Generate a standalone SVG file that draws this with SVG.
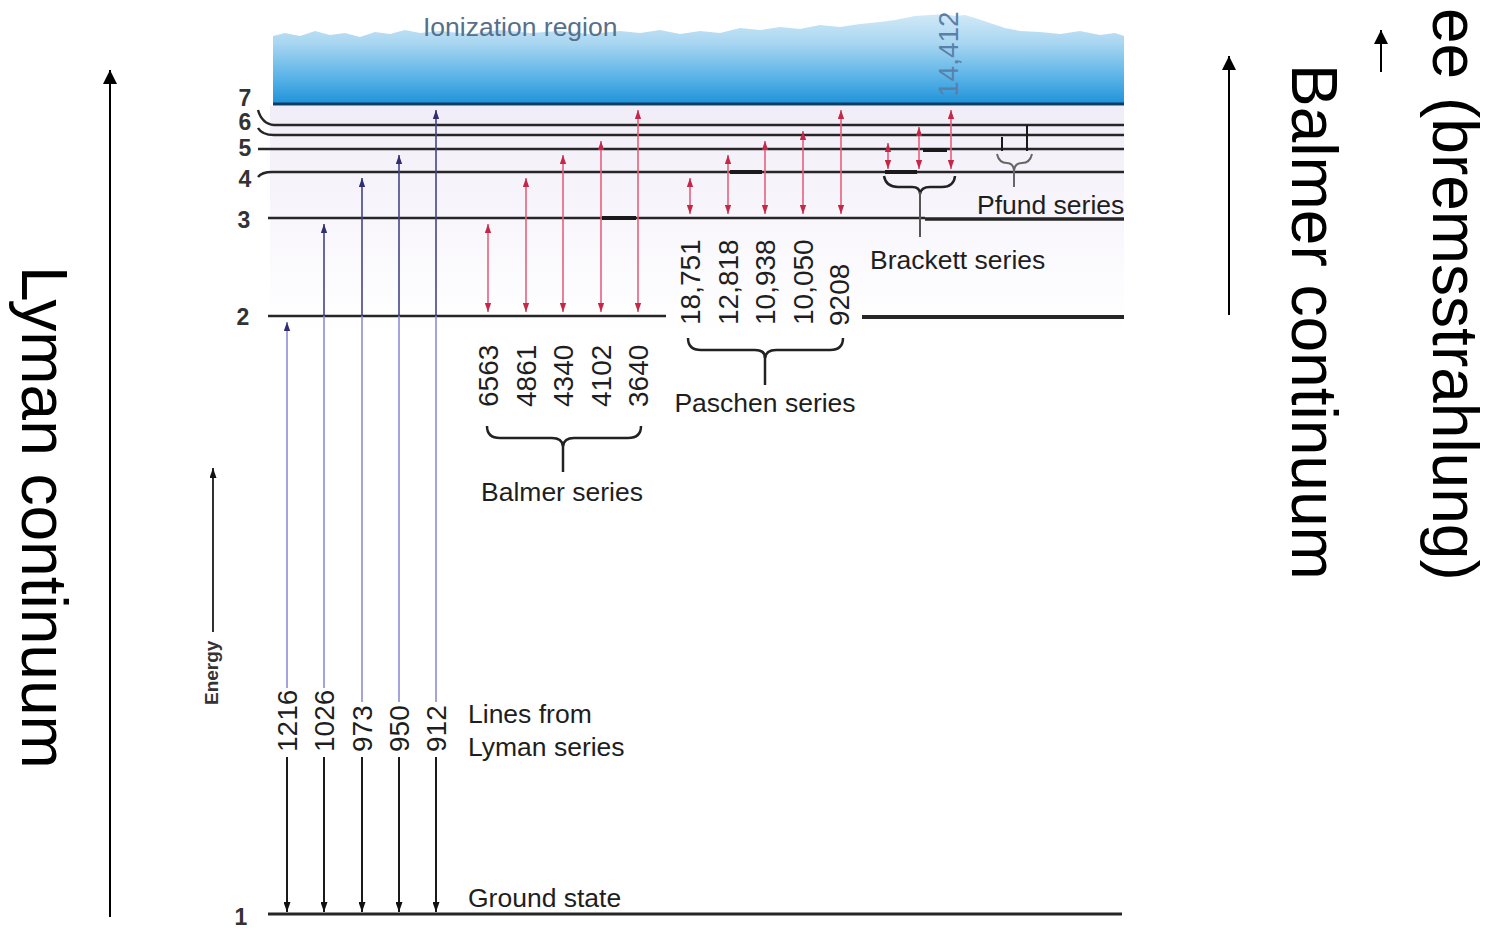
<svg xmlns="http://www.w3.org/2000/svg" width="1501" height="929" viewBox="0 0 1501 929">
<style>
.lvl{stroke:#262626;stroke-width:2.5;fill:none}
.thick{stroke:#1a1a1a;stroke-width:4;fill:none}
.lbl{font-family:"Liberation Sans",Arial,sans-serif;font-size:26.5px;fill:#1e1e1e}
.num{font-family:"Liberation Sans",Arial,sans-serif;font-size:28px;fill:#1e1e1e}
.lvn{font-family:"Liberation Sans",Arial,sans-serif;font-size:23px;font-weight:bold;fill:#333;text-anchor:middle}
.big{font-family:"Liberation Sans",Arial,sans-serif;font-size:64px;fill:#000}
.blue{stroke:#8c8cd6;stroke-width:1.6;fill:none}
.blued{stroke:#44448a;stroke-width:1.6;fill:none}
.red{stroke:#e8607c;stroke-width:1.6;fill:none}
.blk{stroke:#1a1a1a;stroke-width:2;fill:none}
.brace{stroke:#222;stroke-width:2.5;fill:none}
.axis{stroke:#000;stroke-width:2;fill:none}
</style>
<defs>
<linearGradient id="ion" gradientUnits="userSpaceOnUse" x1="0" y1="10" x2="0" y2="104">
<stop offset="0" stop-color="#d6ecf8"/>
<stop offset="0.35" stop-color="#a9d6f1"/>
<stop offset="0.7" stop-color="#5db5e8"/>
<stop offset="1" stop-color="#1f92da"/>
</linearGradient>
<linearGradient id="lav" gradientUnits="userSpaceOnUse" x1="0" y1="106" x2="0" y2="330">
<stop offset="0" stop-color="#f1edf8"/>
<stop offset="1" stop-color="#ffffff"/>
</linearGradient>
<marker id="mb" viewBox="0 0 10 7" refX="10" refY="3.5" markerWidth="9" markerHeight="7" markerUnits="userSpaceOnUse" orient="auto-start-reverse"><path d="M0,0L10,3.5L0,7Z" fill="#2e2e70"/></marker>
<marker id="mr" viewBox="0 0 10 7" refX="10" refY="3.5" markerWidth="9" markerHeight="7" markerUnits="userSpaceOnUse" orient="auto-start-reverse"><path d="M0,0L10,3.5L0,7Z" fill="#c42848"/></marker>
<marker id="mk" viewBox="0 0 10 7" refX="10" refY="3.5" markerWidth="10" markerHeight="7" markerUnits="userSpaceOnUse" orient="auto-start-reverse"><path d="M0,0L10,3.5L0,7Z" fill="#111"/></marker>
<marker id="mbig" viewBox="0 0 14 14" refX="14" refY="7" markerWidth="14" markerHeight="14" markerUnits="userSpaceOnUse" orient="auto-start-reverse"><path d="M0,0L14,7L0,14Z" fill="#000"/></marker>
</defs>

<rect width="1501" height="929" fill="#fff"/>

<g id="ionization-region">
<path d="M273,104 L273,36 L285,33 L300,36 L315,31 L330,35 L345,33 L360,37 L375,32 L390,34 L405,30 L420,33 L440,31 L470,34 L500,30 L530,33 L560,31 L590,34 L620,31 L640,33 L660,30 L680,34 L700,31 L720,33 L740,28 L760,30 L780,27 L800,29 L820,25 L840,27 L860,24 L880,22 L895,20 L905,18 L915,16 L930,15 L945,14 L955,16 L965,15 L975,18 L990,23 L1005,28 L1020,31 L1040,32 L1060,34 L1080,31 L1100,35 L1115,33 L1124,36 L1124,104 Z" fill="url(#ion)"/>
<rect x="270" y="106" width="854" height="224" fill="url(#lav)"/>
<line x1="273" y1="104" x2="1124" y2="104" stroke="#0f3c62" stroke-width="3"/>
<text x="423" y="36" class="lbl" style="fill:#56708c">Ionization region</text>
<text class="num" transform="translate(958,97) rotate(-90)" style="fill:#5a80aa">14,412</text>
</g>

<g id="levels">
<g id="level-7"><path class="lvl" d="M258,110 Q262,124 274,125 L1124,125"/><text class="lvn" x="245" y="106">7</text></g>
<g id="level-6"><path class="lvl" d="M258,128 Q262,135 274,135 L1124,135"/><text class="lvn" x="245" y="130">6</text></g>
<g id="level-5"><path class="lvl" d="M258,149 L1124,149"/><text class="lvn" x="245" y="156">5</text></g>
<g id="level-4"><path class="lvl" d="M258,177 Q262,172 272,172 L1124,172"/><text class="lvn" x="245" y="187">4</text></g>
<g id="level-3"><path class="lvl" d="M268,218 L925,218"/><path class="lvl" style="stroke-width:3.5" d="M925,219 L1124,219"/><text class="lvn" x="244" y="228">3</text></g>
<g id="level-2"><path class="lvl" d="M268,316 L666,316"/><path class="lvl" style="stroke-width:4" d="M862,317 L1124,317"/><text class="lvn" x="243" y="325">2</text></g>
<g id="level-1"><path class="lvl" style="stroke-width:3" d="M268,914 L1122,914"/><text class="lvn" x="241" y="925">1</text></g>
<g id="thick-segments">
<line class="thick" x1="602" y1="218" x2="636" y2="218"/>
<line class="thick" x1="730" y1="172" x2="762" y2="172"/>
<line class="thick" x1="885" y1="172" x2="917" y2="172"/>
<line class="thick" x1="923" y1="150" x2="947" y2="150"/>
</g>
</g>

<g id="connectors">
<g id="lyman-lines">
<line class="blue" x1="287" y1="688" x2="287" y2="322" marker-end="url(#mb)"/>
<line class="blue" x1="324" y1="688" x2="324" y2="316"/>
<line class="blued" x1="324" y1="316" x2="324" y2="224" marker-end="url(#mb)"/>
<line class="blue" x1="362" y1="702" x2="362" y2="316"/>
<line class="blued" x1="362" y1="316" x2="362" y2="178" marker-end="url(#mb)"/>
<line class="blue" x1="399" y1="702" x2="399" y2="316"/>
<line class="blued" x1="399" y1="316" x2="399" y2="155" marker-end="url(#mb)"/>
<line class="blue" x1="436" y1="702" x2="436" y2="316"/>
<line class="blued" x1="436" y1="316" x2="436" y2="110" marker-end="url(#mb)"/>
<line class="blk" x1="287" y1="757" x2="287" y2="912" marker-end="url(#mk)"/>
<line class="blk" x1="324" y1="757" x2="324" y2="912" marker-end="url(#mk)"/>
<line class="blk" x1="362" y1="757" x2="362" y2="912" marker-end="url(#mk)"/>
<line class="blk" x1="399" y1="757" x2="399" y2="912" marker-end="url(#mk)"/>
<line class="blk" x1="436" y1="757" x2="436" y2="912" marker-end="url(#mk)"/>
</g>
<g id="balmer-lines">
<line class="red" x1="488" y1="224" x2="488" y2="312" marker-start="url(#mr)" marker-end="url(#mr)"/>
<line class="red" x1="526" y1="178" x2="526" y2="312" marker-start="url(#mr)" marker-end="url(#mr)"/>
<line class="red" x1="563" y1="155" x2="563" y2="312" marker-start="url(#mr)" marker-end="url(#mr)"/>
<line class="red" x1="601" y1="141" x2="601" y2="312" marker-start="url(#mr)" marker-end="url(#mr)"/>
<line class="red" x1="638" y1="110" x2="638" y2="312" marker-start="url(#mr)" marker-end="url(#mr)"/>
</g>
<g id="paschen-lines">
<line class="red" x1="690" y1="178" x2="690" y2="214" marker-start="url(#mr)" marker-end="url(#mr)"/>
<line class="red" x1="728" y1="155" x2="728" y2="214" marker-start="url(#mr)" marker-end="url(#mr)"/>
<line class="red" x1="765" y1="141" x2="765" y2="214" marker-start="url(#mr)" marker-end="url(#mr)"/>
<line class="red" x1="803" y1="131" x2="803" y2="214" marker-start="url(#mr)" marker-end="url(#mr)"/>
<line class="red" x1="841" y1="110" x2="841" y2="214" marker-start="url(#mr)" marker-end="url(#mr)"/>
</g>
<g id="brackett-lines">
<line class="red" x1="888" y1="143" x2="888" y2="169" marker-start="url(#mr)" marker-end="url(#mr)"/>
<line class="red" x1="919" y1="127" x2="919" y2="169" marker-start="url(#mr)" marker-end="url(#mr)"/>
<line class="red" x1="951" y1="110" x2="951" y2="169" marker-start="url(#mr)" marker-end="url(#mr)"/>
</g>
<g id="pfund-lines">
<line class="blk" x1="1002" y1="137" x2="1002" y2="151"/>
<line class="blk" x1="1027" y1="125" x2="1027" y2="151"/>
</g>
<g id="energy-axis">
<line class="blk" style="stroke-width:1.8" x1="213" y1="632" x2="213" y2="468" marker-end="url(#mk)"/>
</g>
<g id="continuum-arrows">
<line class="axis" x1="110" y1="917" x2="110" y2="70" marker-end="url(#mbig)"/>
<line class="axis" x1="1229" y1="315" x2="1229" y2="56" marker-end="url(#mbig)"/>
<line class="axis" x1="1381" y1="72" x2="1381" y2="30" marker-end="url(#mbig)"/>
</g>
</g>

<g id="lyman-labels">
<text class="num" transform="translate(297,752) rotate(-90)">1216</text>
<text class="num" transform="translate(334,752) rotate(-90)">1026</text>
<text class="num" transform="translate(372,752) rotate(-90)">973</text>
<text class="num" transform="translate(409,752) rotate(-90)">950</text>
<text class="num" transform="translate(446,752) rotate(-90)">912</text>
<text class="lbl" x="468" y="723">Lines from</text>
<text class="lbl" x="468" y="756">Lyman series</text>
<text class="lbl" x="468" y="907">Ground state</text>
</g>

<g id="balmer-series">
<text class="num" transform="translate(498,407) rotate(-90)">6563</text>
<text class="num" transform="translate(536,407) rotate(-90)">4861</text>
<text class="num" transform="translate(573,407) rotate(-90)">4340</text>
<text class="num" transform="translate(611,407) rotate(-90)">4102</text>
<text class="num" transform="translate(648,407) rotate(-90)">3640</text>
<path class="brace" d="M487,426 Q487,438 500,438 L552,438 Q562,438 563,446 Q564,438 574,438 L628,438 Q641,438 641,426"/>
<line class="brace" x1="563" y1="444" x2="563" y2="472"/>
<text class="lbl" x="562" y="501" text-anchor="middle">Balmer series</text>
</g>

<g id="paschen-series">
<text class="num" transform="translate(700,325) rotate(-90)">18,751</text>
<text class="num" transform="translate(738,325) rotate(-90)">12,818</text>
<text class="num" transform="translate(775,325) rotate(-90)">10,938</text>
<text class="num" transform="translate(813,325) rotate(-90)">10,050</text>
<text class="num" transform="translate(849,326) rotate(-90)">9208</text>
<path class="brace" d="M688,338 Q688,350 701,350 L755,350 Q765,350 765,358 Q766,350 776,350 L830,350 Q843,350 843,338"/>
<line class="brace" x1="765" y1="356" x2="765" y2="385"/>
<text class="lbl" x="765" y="412" text-anchor="middle">Paschen series</text>
</g>

<g id="brackett-series">
<path class="brace" d="M884,176 Q886,187 898,187 L912,187 Q920,187 920,194 Q921,187 930,187 L942,187 Q954,187 955,176"/>
<line class="brace" style="stroke:#555;stroke-width:2" x1="920" y1="192" x2="920" y2="237"/>
<text class="lbl" x="870" y="269">Brackett series</text>
</g>

<g id="pfund-series">
<path class="brace" style="stroke:#666;stroke-width:2" d="M997,154 Q999,163 1007,163 Q1013,163 1014,170 Q1015,163 1022,163 Q1030,163 1032,154"/>
<line class="brace" style="stroke:#666;stroke-width:2" x1="1014" y1="168" x2="1014" y2="187"/>
<text class="lbl" x="977" y="214">Pfund series</text>
</g>

<g id="energy-label">
<text class="lbl" style="font-size:19px;font-weight:bold;fill:#333" transform="translate(218,705) rotate(-90)">Energy</text>
</g>

<g id="continuum-labels">
<text class="big" transform="translate(22,266) rotate(90)">Lyman continuum</text>
<text class="big" transform="translate(1292,64) rotate(90)">Balmer continuum</text>
<text class="big" transform="translate(1433,8) rotate(90)">ee (bremsstrahlung)</text>
</g>
</svg>
